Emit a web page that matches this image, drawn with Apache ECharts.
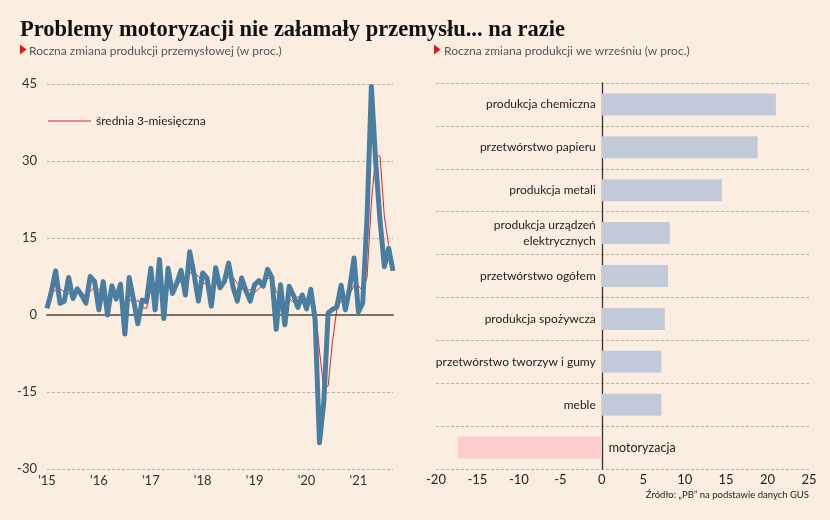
<!DOCTYPE html>
<html><head><meta charset="utf-8">
<script src="https://cdn.jsdelivr.net/npm/echarts@6/dist/echarts.min.js"></script>
<style>html,body{margin:0;padding:0;background:#fcede1;}#c{width:830px;height:520px;}</style>
</head><body><div id="c"></div>
<script>
// ---- data ----
const startYear = 2015;
const monthCount = 81; // Jan 2015 .. Sep 2021
const yearTicks = ["'15","'16","'17","'18","'19","'20","'21"];
const production = [1.3,4.5,8.6,2.3,2.7,7.3,3.2,5.1,3.9,2.3,7.5,6.5,
 1.0,6.5,0.0,5.7,3.1,6.0,-3.7,7.3,3.0,-1.7,2.9,2.6,
 9.1,1.0,10.8,-0.7,9.1,4.2,6.2,8.7,3.9,12.3,7.9,2.7,
 8.2,7.2,1.7,9.2,5.3,6.5,10.1,5.5,2.7,7.2,4.7,2.7,
 5.9,6.7,5.6,8.9,7.3,-2.8,5.9,-1.9,5.6,3.8,1.5,3.9,
 1.2,5.0,-1.0,-24.9,-17.0,0.4,1.1,1.5,5.8,1.0,5.4,11.1,
 0.6,2.3,19.0,44.5,29.8,18.4,9.4,13.0,8.6];
const average3m = [null,4.5,4.8,5.1,4.5,4.1,4.4,5.2,4.1,3.8,4.6,5.4,
 5.0,4.7,2.5,4.1,2.9,4.9,1.8,3.2,2.2,2.9,1.4,1.3,
 4.9,4.2,7.0,3.7,6.4,4.2,6.5,6.4,6.3,8.3,8.0,7.6,
 6.3,6.0,5.7,6.0,5.4,7.0,7.3,7.4,6.1,5.1,4.9,4.9,
 4.4,5.1,6.1,7.1,7.3,4.5,3.5,0.4,3.2,2.5,3.6,3.1,
 2.2,3.4,1.7,-7.0,-14.3,-13.8,-5.2,1.0,2.8,2.8,4.1,5.8,
 5.7,4.7,7.3,21.9,31.1,30.9,19.2,13.6,null];
const sectors = ["produkcja chemiczna","przetwórstwo papieru","produkcja metali",
 "produkcja urządzeń\nelektrycznych","przetwórstwo ogółem","produkcja spożywcza",
 "przetwórstwo tworzyw i gumy","meble","motoryzacja"];
const sectorChange = [21.0,18.8,14.5,8.2,8.0,7.6,7.2,7.2,-17.4];
const leftTicks = [-30,-15,0,15,30,45];
const rightTicks = [-20,-15,-10,-5,0,5,10,15,20,25];

const months = [];
for (let i = 0; i < monthCount; i++) {
  const y = startYear + Math.floor(i / 12), m = (i % 12) + 1;
  months.push(y + '-' + (m < 10 ? '0' + m : m));
}

// right grid geometry, used to place the category labels next to the zero line
const RG_LEFT = 436, RG_RIGHT = 21, W = 830;
const rMin = rightTicks[0], rMax = rightTicks[rightTicks.length - 1];
const zeroOffset = (0 - rMin) / (rMax - rMin) * (W - RG_LEFT - RG_RIGHT);

const FONT = 'Lato';
const chart = echarts.init(document.getElementById('c'), null, {renderer: 'canvas'});
chart.setOption({
  backgroundColor: '#fcede1',
  animation: false,
  textStyle: {fontFamily: FONT},
  title: [
    {text: 'Problemy motoryzacji nie załamały przemysłu... na razie', left: 15, top: 14,
     textStyle: {fontFamily: 'Liberation Serif', fontWeight: 'bold', fontSize: 22.5, color: '#111'}},
    {text: 'Roczna zmiana produkcji przemysłowej (w proc.)', left: 24, top: 40,
     textStyle: {fontFamily: FONT, fontWeight: 'normal', fontSize: 12, color: '#555'}},
    {text: 'Roczna zmiana produkcji we wrześniu (w proc.)', left: 439, top: 40,
     textStyle: {fontFamily: FONT, fontWeight: 'normal', fontSize: 12, color: '#555'}},
    {text: 'Źródło: „PB” na podstawie danych GUS', right: 16, top: 485,
     textStyle: {fontFamily: FONT, fontWeight: 'normal', fontSize: 9.5, color: '#222'}}
  ],
  graphic: [
    {type: 'polygon', shape: {points: [[20, 44.5], [26.5, 49.5], [20, 54.5]]}, style: {fill: '#e3151b'}},
    {type: 'polygon', shape: {points: [[434, 44.5], [440.5, 49.5], [434, 54.5]]}, style: {fill: '#e3151b'}}
  ],
  legend: {
    data: [{name: 'średnia 3-miesięczna', icon: 'rect'}],
    left: 43, top: 110, itemWidth: 43, itemHeight: 1.2, itemGap: 6,
    textStyle: {fontFamily: FONT, fontSize: 12, color: '#222'}
  },
  grid: [
    {left: 47, right: 437, top: 84, bottom: 51},
    {left: RG_LEFT, right: RG_RIGHT, top: 83, bottom: 51}
  ],
  xAxis: [
    {type: 'category', gridIndex: 0, data: months, boundaryGap: false, position: 'bottom',
     axisLine: {show: false, onZero: false}, axisTick: {show: false},
     axisLabel: {interval: (i) => i % 12 === 0, margin: 5, fontSize: 13, color: '#333',
       formatter: (v) => yearTicks[parseInt(v.slice(0, 4)) - startYear]},
     splitLine: {show: false}},
    {type: 'category', gridIndex: 0, data: months, boundaryGap: false,
     axisLine: {show: true, onZero: true, lineStyle: {color: '#7a6e66', width: 2}},
     axisTick: {show: false}, axisLabel: {show: false}, splitLine: {show: false}},
    {type: 'value', gridIndex: 1, min: rMin, max: rMax, interval: 5,
     axisLine: {show: false}, axisTick: {show: false}, splitLine: {show: false},
     axisLabel: {margin: 4, fontSize: 13, color: '#222'}}
  ],
  yAxis: [
    {type: 'value', gridIndex: 0, min: leftTicks[0], max: leftTicks[leftTicks.length - 1], interval: 15,
     axisLine: {show: false}, axisTick: {show: false},
     axisLabel: {margin: 10, fontSize: 13, color: '#333', padding: [0, 0, 7, 0]},
     splitLine: {show: true, lineStyle: {color: '#a89f99', type: [3, 2], width: 0.8}}},
    {type: 'category', gridIndex: 1, data: sectors, inverse: true,
     axisLine: {show: true, onZero: true, lineStyle: {color: '#333', width: 1.3}},
     axisTick: {show: false},
     axisLabel: {margin: -(zeroOffset - 6), fontSize: 12, color: '#222', lineHeight: 16,
       formatter: (v) => v === 'motoryzacja' ? '' : v},
     splitLine: {show: true, interval: 0, lineStyle: {color: '#a89f99', type: [3, 2], width: 0.8}}}
  ],
  series: [
    {name: 'produkcja', type: 'line', xAxisIndex: 0, yAxisIndex: 0, data: production,
     symbol: 'none', lineStyle: {color: '#4a7ea1', width: 5, join: 'round'}, z: 3},
    {name: 'średnia 3-miesięczna', type: 'line', xAxisIndex: 0, yAxisIndex: 0, data: average3m,
     symbol: 'none', connectNulls: false, lineStyle: {color: '#d9262b', width: 1}, itemStyle: {color: '#d9262b'}, z: 2},
    {name: 'sektory', type: 'bar', xAxisIndex: 2, yAxisIndex: 1, barWidth: 22,
     data: sectorChange.map((v, i) => ({
       value: v,
       itemStyle: {color: v < 0 ? '#fdcdcd' : '#c2cad9'},
       label: sectors[i] === 'motoryzacja' ? {show: true, position: 'right', distance: 7,
         formatter: sectors[i], fontSize: 12.5, color: '#222', fontFamily: FONT} : {show: false}
     })), z: 1}
  ]
});
</script></body></html>
